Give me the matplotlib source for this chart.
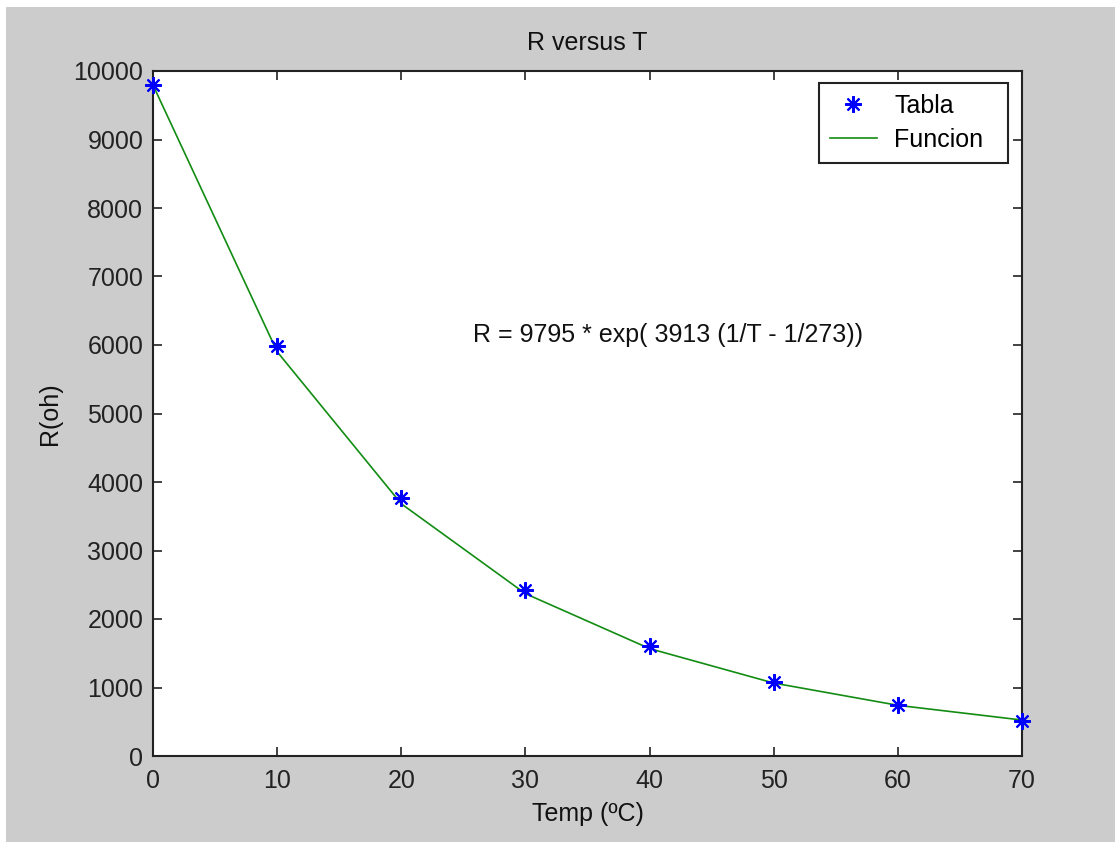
import numpy as np
import matplotlib.pyplot as plt
from matplotlib.patches import Rectangle

# measured table: temperature (C) and resistance (ohm)
temp_c = [0, 10, 20, 30, 40, 50, 60, 70]
r_tabla = [9800, 5980, 3760, 2420, 1600, 1080, 745, 515]

# fitted model values at the same temperatures
r_funcion = [9795, 5902, 3682, 2370, 1568, 1065, 740, 525]

x_ticks = [0, 10, 20, 30, 40, 50, 60, 70]
y_ticks = [0, 1000, 2000, 3000, 4000, 5000, 6000, 7000, 8000, 9000, 10000]

plt.rcParams["font.family"] = ["Liberation Sans", "DejaVu Sans"]

fig = plt.figure(figsize=(11.15, 8.42), dpi=100, facecolor="white")
# grey window area (thin white border on top/left)
fig.patches.append(Rectangle((6 / 1115, 0), 1, (842 - 7) / 842,
                             transform=fig.transFigure, facecolor="#cccccc",
                             edgecolor="none", zorder=-10))

ax = fig.add_axes([153 / 1115, 86 / 842, 869 / 1115, 685 / 842])
ax.set_facecolor("white")

ax.plot(temp_c, r_tabla, linestyle="none", marker=(8, 2, 0), markersize=12,
        markeredgewidth=1.5, color="#0000ff", label="Tabla", zorder=3,
        clip_on=False)
ax.plot(temp_c, r_funcion, color="#128c12", linewidth=1.2, label="Funcion",
        zorder=2, clip_on=False)

ax.text(25.8, 6150, "R = 9795 * exp( 3913 (1/T - 1/273))", fontsize=18,
        va="center", ha="left", color="#111111")

ax.set_xlim(0, 70)
ax.set_ylim(0, 10000)
ax.set_xticks(x_ticks)
ax.set_yticks(y_ticks)
ax.tick_params(direction="in", length=6.5, width=1.2, labelsize=18,
               top=True, right=True, colors="#222222")
ax.tick_params(axis="y", pad=7)
ax.tick_params(axis="x", pad=9)
for s in ax.spines.values():
    s.set_linewidth(1.5)
    s.set_color("#222222")

ax.set_title("R versus T", fontsize=18, pad=15, color="#111111")
ax.set_xlabel("Temp (ºC)", fontsize=18, labelpad=7, color="#111111")
ax.set_ylabel("R(oh)", fontsize=18, labelpad=8, color="#111111")

leg = ax.legend(loc="upper left", bbox_to_anchor=(0.7664, 0.873, 0.2175, 0.1095),
                mode="expand", borderaxespad=0, fontsize=18, fancybox=False,
                framealpha=1, edgecolor="#222222", borderpad=0.45,
                handlelength=1.85, handletextpad=0.7, labelspacing=0.4)
leg.get_frame().set_linewidth(1.5)

fig.savefig("out.png", dpi=100, facecolor=fig.get_facecolor())
